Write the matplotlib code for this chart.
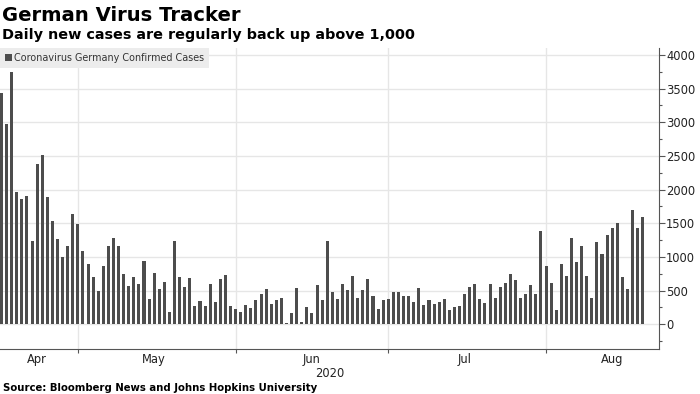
import matplotlib
matplotlib.use("Agg")
import matplotlib.pyplot as plt
import matplotlib.dates as mdates
import numpy as np
import pandas as pd

# daily new cases, Germany, from 16 Apr 2020
start_date = "2020-04-16"
cases = [
    3430, 2975, 3742, 1960, 1861, 1906, 1237, 2381, 2510, 1886,
    1530, 1272, 1000, 1168, 1643, 1495, 1084, 896, 703, 495,
    866, 1168, 1277, 1168, 743, 564, 703, 594, 936, 381,
    757, 525, 624, 178, 1237, 703, 554, 693, 277, 347,
    277, 604, 327, 673, 733, 267, 228, 183, 287, 248,
    356, 455, 525, 307, 366, 396, 15, 168, 535, 40,
    257, 168, 579, 356, 1233, 485, 376, 604, 505, 718,
    396, 505, 673, 421, 233, 356, 376, 475, 485, 416,
    416, 327, 545, 287, 356, 302, 332, 381, 213, 262,
    277, 446, 559, 594, 381, 312, 594, 396, 554, 608,
    745, 652, 387, 446, 588, 456, 1382, 867, 608, 211,
    892, 720, 1284, 926, 1156, 711, 387, 1220, 1039, 1323,
    1426, 1509, 696, 524, 1695, 1426, 1588,
]
month_starts = ["2020-05-01", "2020-06-01", "2020-07-01", "2020-08-01"]
month_label_dates = ["2020-04-23", "2020-05-16", "2020-06-16", "2020-07-16", "2020-08-14"]
month_labels = ["Apr", "May", "Jun", "Jul", "Aug"]
y_ticks = [0, 500, 1000, 1500, 2000, 2500, 3000, 3500, 4000]
series_name = "Coronavirus Germany Confirmed Cases"

dates = pd.date_range(start_date, periods=len(cases), freq="D")
x = mdates.date2num(dates.to_pydatetime())

W, H = 700, 394
fig = plt.figure(figsize=(W / 100, H / 100), dpi=100)
ax = fig.add_axes([0 / W, 1 - 349 / H, 659 / W, (349 - 48) / H])

grid_col = "#e6e6e6"
axis_col = "#555555"

ax.bar(x, cases, width=0.6, color="#4d4d4d", label=series_name, zorder=3)

ax.set_xlim(x[0] - 0.3, x[-1] + 3.2)
ax.set_ylim(-367, 4104)

# y axis on the right
ax.yaxis.tick_right()
ax.set_yticks(y_ticks)
ax.set_yticklabels([str(v) for v in y_ticks])
ax.set_yticks(np.arange(-250, 4100, 250), minor=True)
ax.tick_params(axis="y", which="major", length=4, width=0.8, color=axis_col,
               labelsize=8.3, labelcolor="#222222", pad=1)
ax.tick_params(axis="y", which="minor", length=2, width=0.8, color=axis_col)
ax.grid(axis="y", which="major", color=grid_col, lw=1, zorder=0)

# x axis: month boundaries as grid, labels mid month
ax.set_xticks(mdates.date2num(pd.to_datetime(month_starts).to_pydatetime()))
ax.set_xticklabels([""] * len(month_starts))
ax.set_xticks(mdates.date2num(pd.to_datetime(month_label_dates).to_pydatetime()), minor=True)
ax.set_xticklabels(month_labels, minor=True)
ax.tick_params(axis="x", which="major", length=3, width=0.8, color=axis_col)
ax.tick_params(axis="x", which="minor", length=0, labelsize=8.3,
               labelcolor="#222222", pad=3)
ax.grid(axis="x", which="major", color=grid_col, lw=1, zorder=0)

for s in ["top", "left"]:
    ax.spines[s].set_visible(False)
for s in ["right", "bottom"]:
    ax.spines[s].set_color(axis_col)
    ax.spines[s].set_linewidth(0.8)

fig.text(329.5 / W, 1 - 377 / H, "2020", ha="center", va="baseline",
         fontsize=8.3, color="#222222")

leg = ax.legend(loc="upper left", bbox_to_anchor=(0, 1.0), borderaxespad=0,
                frameon=True, fancybox=False, facecolor="#ececec", edgecolor="none",
                framealpha=1, handlelength=0.7, handleheight=0.7, handletextpad=0.3,
                borderpad=0.5, fontsize=6.9)
for t in leg.get_texts():
    t.set_color("#333333")

fig.text(2 / W, 1 - 20.7 / H, "German Virus Tracker", fontsize=14.1,
         fontweight="bold", color="black", va="baseline", ha="left")
fig.text(2 / W, 1 - 39 / H, "Daily new cases are regularly back up above 1,000",
         fontsize=10.4, fontweight="bold", color="black", va="baseline", ha="left")
fig.text(3 / W, 1 - 391 / H, "Source: Bloomberg News and Johns Hopkins University",
         fontsize=7.3, fontweight="bold", color="black", va="baseline", ha="left")

fig.savefig("out.png", dpi=100)
